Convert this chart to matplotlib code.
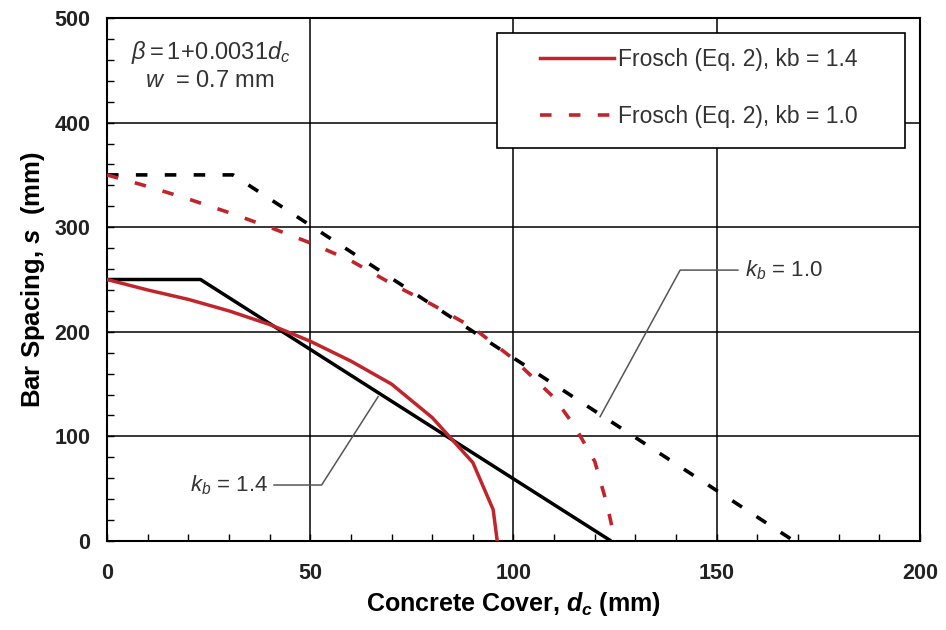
import numpy as np
import matplotlib
matplotlib.use("Agg")
import matplotlib.pyplot as plt
from matplotlib.patches import Rectangle
from matplotlib.ticker import MultipleLocator

plt.rcParams['font.family'] = ['Liberation Sans', 'DejaVu Sans']
plt.rcParams['mathtext.fontset'] = 'custom'
plt.rcParams['mathtext.rm'] = 'Liberation Sans'
plt.rcParams['mathtext.it'] = 'Liberation Sans:italic'
plt.rcParams['mathtext.bf'] = 'Liberation Sans:bold'
plt.rcParams['mathtext.bfit'] = 'Liberation Sans:bold:italic'

# ACI-type limits (black)
aci14_dc = [0, 23, 124]
aci14_s = [250, 250, 0]
aci10_dc = [0, 31, 169]
aci10_s = [350, 350, 0]

# Frosch Eq. 2 (red)
fr14_dc = [0, 10, 20, 30, 40, 50, 60, 70, 80, 90, 95, 96]
fr14_s = [250, 240, 231, 220, 207, 191, 172, 150, 118, 75, 30, 0]
fr10_dc = [0, 10, 20, 30, 40, 50, 60, 70, 80, 90, 100, 110, 115, 120, 123, 125]
fr10_s = [350, 339, 327, 314, 300, 285, 268, 246, 226, 204, 174, 137, 110, 76, 35, 0]

red = '#c0252b'

fig = plt.figure(figsize=(9.46, 6.30), dpi=100)
ax = fig.add_axes([0.1131, 0.1413, 0.8594, 0.8301])

ax.plot(aci14_dc, aci14_s, color='black', lw=2.5, solid_capstyle='butt', zorder=3)
ax.plot(aci10_dc, aci10_s, color='black', lw=2.6, dashes=(3.2, 4.8), zorder=3)
l1, = ax.plot(fr14_dc, fr14_s, color=red, lw=2.5, zorder=4,
              label='Frosch (Eq. 2), kb = 1.4')
l2, = ax.plot(fr10_dc, fr10_s, color=red, lw=2.6, dashes=(3.2, 4.8), zorder=4,
              label='Frosch (Eq. 2), kb = 1.0')

ax.set_xlim(0, 200)
ax.set_ylim(0, 500)
ax.xaxis.set_major_locator(MultipleLocator(50))
ax.xaxis.set_minor_locator(MultipleLocator(10))
ax.yaxis.set_major_locator(MultipleLocator(100))
ax.yaxis.set_minor_locator(MultipleLocator(20))
ax.grid(True, which='major', color='black', lw=1.1)
ax.set_axisbelow(True)
ax.tick_params(which='both', direction='in', length=5, width=1, colors='black')
ax.tick_params(axis='x', which='major', pad=16)
ax.tick_params(axis='y', which='major', pad=12)
for lab in ax.get_xticklabels() + ax.get_yticklabels():
    lab.set_fontsize(15.5)
    lab.set_fontweight('bold')
    lab.set_color('#222222')
for sp in ax.spines.values():
    sp.set_linewidth(1.5)

ax.set_xlabel(r'Concrete Cover, $\mathbfit{d}_{\mathbfit{c}}$ (mm)',
              fontsize=18, fontweight='bold', labelpad=4)
ax.set_ylabel(r'Bar Spacing, $\mathbfit{s}$  (mm)',
              fontsize=18.5, fontweight='bold', labelpad=5)

# equation note
ax.text(0.127, 0.935, r'$\beta = 1\!+\!0.0031\mathit{d}_c$', transform=ax.transAxes,
        ha='center', va='center', fontsize=17, color='#333333')
ax.text(0.127, 0.879, r'$\mathit{w}$  = 0.7 mm', transform=ax.transAxes,
        ha='center', va='center', fontsize=17, color='#333333')

# legend with a separate frame
ax.add_patch(Rectangle((0.48, 0.751), 0.502, 0.22, transform=ax.transAxes,
                       facecolor='white', edgecolor='black', lw=1.2, zorder=5))
leg = ax.legend(handles=[l1, l2], loc='upper left', bbox_to_anchor=(0.533, 0.942),
                frameon=False, fontsize=16.5, handlelength=3.2, handletextpad=0.2,
                labelspacing=1.45, borderpad=0, borderaxespad=0)
leg.set_zorder(6)
for t in leg.get_texts():
    t.set_color('#333333')

# leader annotations
ax.plot([121.3, 141, 155.2], [118.8, 259, 259], color='#555555', lw=1.1, zorder=5)
ax.text(157, 259, r'$k_{b}$ = 1.0', ha='left', va='center', fontsize=16,
        color='#333333', zorder=6)
ax.plot([66.7, 52.8, 41.1], [138, 53.5, 53.5], color='#555555', lw=1.1, zorder=5)
ax.text(39.7, 53.5, r'$k_{b}$ = 1.4', ha='right', va='center', fontsize=16,
        color='#333333', zorder=6)

fig.savefig('out.png', dpi=100)
